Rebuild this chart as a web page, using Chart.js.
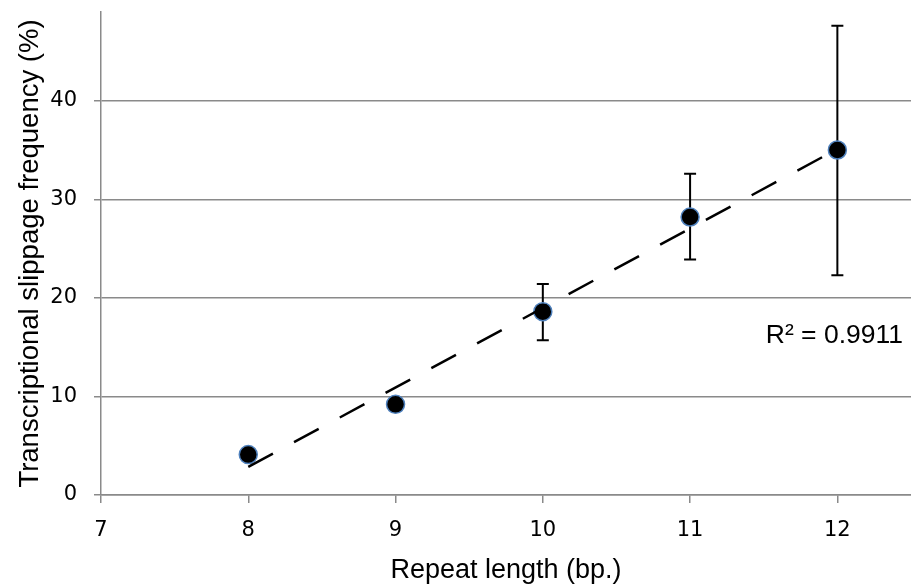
<!DOCTYPE html>
<html>
<head>
<meta charset="utf-8">
<script src="https://cdn.jsdelivr.net/npm/chart.js@4.4.1/dist/chart.umd.min.js"></script>
<style>
  html, body { margin: 0; padding: 0; background: #fff; overflow: hidden; }
  #slipChart { display: block; width: 911px; height: 586px; }
</style>
</head>
<body>
<canvas id="slipChart" width="911" height="586"></canvas>
<script>
// values
const repeatLength = [8, 9, 10, 11, 12];
const slippage = [4.1, 9.2, 18.6, 28.2, 35.0];
const errLow = [null, null, 15.7, 23.9, 22.3];
const errHigh = [null, null, 21.4, 32.6, 47.6];
const trendX = [8, 12];
const trendY = [2.85, 35.1];
const xTicks = [7, 8, 9, 10, 11, 12];
const yTicks = [0, 10, 20, 30, 40];
const r2Label = 'R² = 0.9911';

const gridColor = '#8a8a8a';
const tickFont = { family: 'DejaVu Sans', size: 21 };
const titleFont = { family: 'Liberation Sans', size: 27 };

// vertical error bars with caps, drawn under the markers
const errorBars = {
  id: 'errorBars',
  beforeDatasetsDraw(chart) {
    const { ctx, scales: { x, y } } = chart;
    ctx.save();
    ctx.strokeStyle = '#000';
    ctx.lineWidth = 2;
    repeatLength.forEach((v, i) => {
      if (errLow[i] == null) return;
      const px = x.getPixelForValue(v);
      const top = y.getPixelForValue(errHigh[i]);
      const bot = y.getPixelForValue(errLow[i]);
      ctx.beginPath();
      ctx.moveTo(px, top); ctx.lineTo(px, bot);
      ctx.moveTo(px - 6, top); ctx.lineTo(px + 6, top);
      ctx.moveTo(px - 6, bot); ctx.lineTo(px + 6, bot);
      ctx.stroke();
    });
    ctx.restore();
  }
};

// R² label of the trendline
const r2Text = {
  id: 'r2Text',
  afterDatasetsDraw(chart) {
    const { ctx, chartArea, scales: { y } } = chart;
    ctx.save();
    ctx.font = '26.5px "Liberation Sans"';
    ctx.fillStyle = '#000';
    ctx.textAlign = 'right';
    ctx.textBaseline = 'alphabetic';
    ctx.fillText(r2Label, chartArea.right - 8, y.getPixelForValue(15.4));
    ctx.restore();
  }
};

new Chart(document.getElementById('slipChart'), {
  type: 'scatter',
  data: {
    datasets: [
      {
        label: 'Trend',
        data: trendX.map((v, i) => ({ x: v, y: trendY[i] })),
        showLine: true,
        pointRadius: 0,
        borderColor: '#000',
        borderWidth: 2.5,
        borderDash: [28, 24],
        order: 0
      },
      {
        label: 'Slippage',
        data: repeatLength.map((v, i) => ({ x: v, y: slippage[i] })),
        pointRadius: 9,
        pointHoverRadius: 9,
        backgroundColor: '#000',
        borderColor: '#4f81bd',
        borderWidth: 1.5,
        order: 1
      }
    ]
  },
  options: {
    responsive: false,
    animation: false,
    devicePixelRatio: 1,
    layout: { autoPadding: false, padding: { top: 12, right: 0, bottom: 0, left: 0 } },
    plugins: {
      legend: { display: false },
      tooltip: { enabled: false }
    },
    scales: {
      x: {
        type: 'linear',
        min: 7,
        max: 12.5,
        afterBuildTicks: s => { s.ticks = xTicks.map(v => ({ value: v })); },
        afterFit: s => { s.height = 91; s.paddingLeft = 0; s.paddingRight = 0; },
        grid: { drawOnChartArea: false, drawTicks: true, tickLength: 8, color: gridColor, lineWidth: 1.5 },
        border: { color: gridColor, width: 1.5 },
        ticks: { font: tickFont, color: '#000', padding: 15, maxRotation: 0 },
        title: { display: true, text: 'Repeat length (bp.)', font: titleFont, color: '#000', padding: { top: 0, bottom: -1 } }
      },
      y: {
        type: 'linear',
        min: 0,
        max: 49,
        afterBuildTicks: s => { s.ticks = yTicks.map(v => ({ value: v })); },
        afterFit: s => { s.width = 101; s.paddingTop = 0; s.paddingBottom = 0; },
        grid: { drawTicks: true, tickLength: 7, color: gridColor, lineWidth: 1.5 },
        border: { color: gridColor, width: 1.5 },
        ticks: { font: tickFont, color: '#000', padding: 17 },
        title: { display: true, text: 'Transcriptional slippage frequency (%)', font: { family: 'Liberation Sans', size: 27.5 }, color: '#000', padding: { top: 14, bottom: 0 } }
      }
    }
  },
  plugins: [errorBars, r2Text]
});
</script>
</body>
</html>
